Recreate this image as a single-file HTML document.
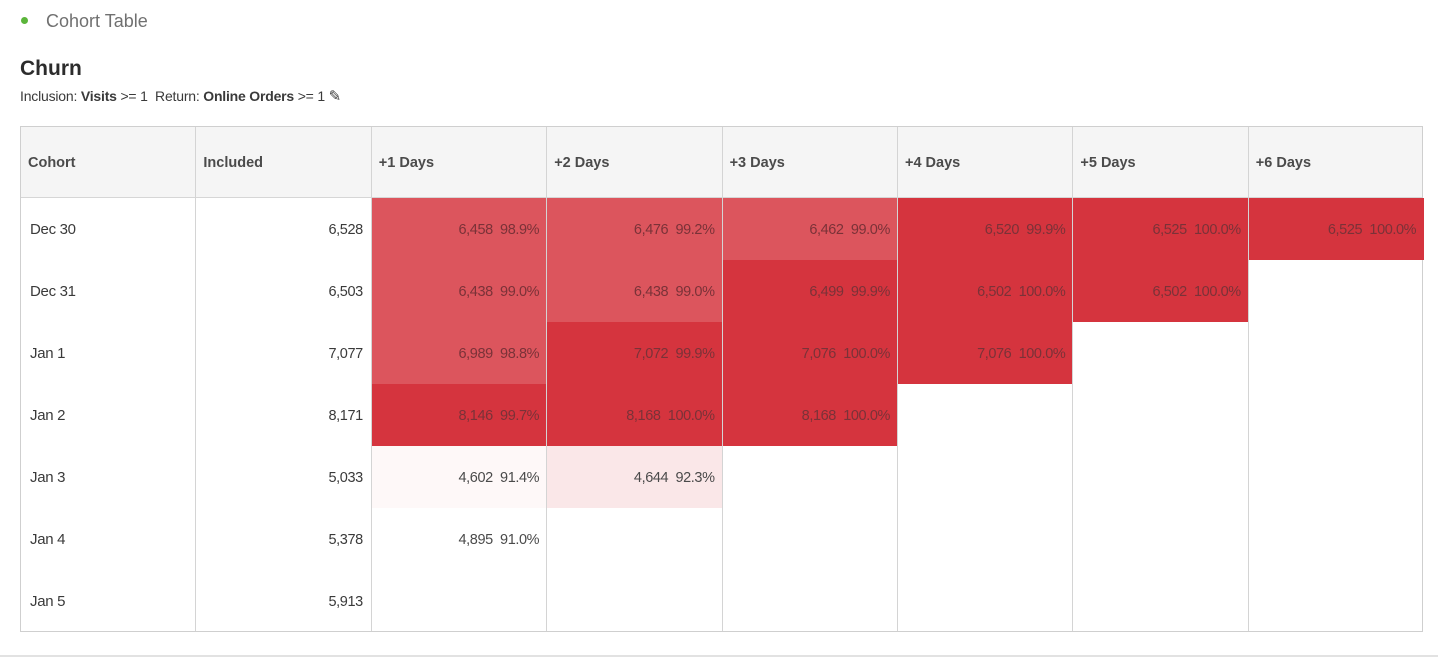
<!DOCTYPE html>
<html><head><meta charset="utf-8"><style>
body{margin:0;width:1438px;height:670px;background:#fff;font-family:"Liberation Sans",sans-serif;position:relative;overflow:hidden;color:#323232}
.abs{position:absolute}
#tbl{position:absolute;left:20px;top:126px;width:1403px;height:506px;border:1px solid #cfcfcf;box-sizing:border-box}
.hdr{position:absolute;top:0;height:71px;background:#f5f5f5;border-bottom:1px solid #d6d6d6;box-sizing:border-box}
.hc{position:absolute;top:0;height:71px;line-height:72px;font-size:14.5px;font-weight:bold;color:#4b4b4b;padding-left:8px;box-sizing:border-box}
.vl{position:absolute;top:0;bottom:0;width:1px;background:#d4d4d4}
.cell{position:absolute;height:62px;line-height:64px;font-size:14.5px;box-sizing:border-box;text-align:right;padding-right:8px;letter-spacing:-0.4px}
.lab{position:absolute;height:62px;line-height:64px;font-size:15px;padding-left:9px;color:#3a3a3a;letter-spacing:-0.3px}
</style></head><body>
<div class="abs" style="left:21px;top:17px;width:7px;height:7px;border-radius:50%;background:#5bb53a"></div>
<div class="abs" style="left:46px;top:11px;font-size:18px;color:#707070">Cohort Table</div>
<div class="abs" style="left:20px;top:57px;font-size:21px;font-weight:bold;color:#2c2c2c">Churn</div>
<div class="abs" style="left:20px;top:87px;font-size:14px;color:#3a3a3a;letter-spacing:-0.2px">Inclusion: <b>Visits</b> &gt;= 1&nbsp;&nbsp;Return: <b>Online Orders</b> &gt;= 1 <span style="font-size:15px">✎</span></div>
<div id="tbl"></div>
<div class="abs" style="left:0;top:655px;width:1438px;height:2px;background:#e2e2e2"></div>
<script>
const columns=["Cohort","Included","+1 Days","+2 Days","+3 Days","+4 Days","+5 Days","+6 Days"];
const cohorts=["Dec 30","Dec 31","Jan 1","Jan 2","Jan 3","Jan 4","Jan 5"];
const included=[6528,6503,7077,8171,5033,5378,5913];
const counts=[[6458,6476,6462,6520,6525,6525],[6438,6438,6499,6502,6502],[6989,7072,7076,7076],[8146,8168,8168],[4602,4644],[4895],[]];
const pcts=[[98.9,99.2,99.0,99.9,100.0,100.0],[99.0,99.0,99.9,100.0,100.0],[98.8,99.9,100.0,100.0],[99.7,100.0,100.0],[91.4,92.3],[91.0],[]];
const T=document.getElementById('tbl');
const colX=i=>i*175.4-1, colW=175.4, rowY=r=>71+r*62;
const fmt=n=>n.toLocaleString('en-US');
const alpha=p=>p>=99.5?1:(p>=98?0.84:Math.max(0,(p-91)*0.09));
const h=document.createElement('div');h.className='hdr';h.style.left='0';h.style.width='100%';


T.appendChild(h);
columns.forEach((c,i)=>{const d=document.createElement('div');d.className='hc';d.style.left=colX(i)+'px';d.style.width=colW+'px';d.textContent=c;


T.appendChild(d);});
cohorts.forEach((c,r)=>{
 const l=document.createElement('div');l.className='lab';l.style.left='0';l.style.top=rowY(r)+'px';l.textContent=c;
 
 
 T.appendChild(l);
 const inc=document.createElement('div');inc.className='cell';inc.style.left=colX(1)+'px';inc.style.width=colW+'px';inc.style.top=rowY(r)+'px';inc.style.color='#3a3a3a';inc.textContent=fmt(included[r]);
 
 
 T.appendChild(inc);
 counts[r].forEach((v,k)=>{const p=pcts[r][k];const a=alpha(p);
  const d=document.createElement('div');d.className='cell';d.style.left=(colX(k+2)+1)+'px';d.style.width=colW+'px';d.style.top=rowY(r)+'px';
  d.style.background=`rgba(213,52,62,${a})`;d.style.color=a>0.5?'#7a3238':'#4a4a4a';
  d.innerHTML=fmt(v)+'&nbsp;&nbsp;'+p.toFixed(1)+'%';
  
  
  T.appendChild(d);});
});
for(let i=1;i<columns.length;i++){const v=document.createElement('div');v.className='vl';v.style.left=colX(i)+'px';
 
 
 T.appendChild(v);}
</script>
</body></html>
